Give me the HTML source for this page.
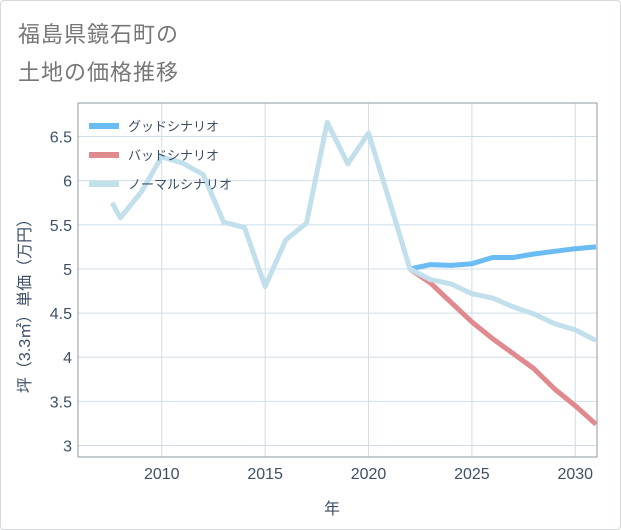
<!DOCTYPE html>
<html><head><meta charset="utf-8"><style>
body{margin:0;background:#fff;}
#wrap{position:relative;width:619px;height:528px;border:1px solid #d5d8dc;border-radius:4px;background:#fff;overflow:hidden}
.title{position:absolute;left:17px;font:22px "Liberation Sans","Noto Sans CJK JP",sans-serif;color:#777;letter-spacing:1px}
svg text{font-family:"Liberation Sans","Noto Sans CJK JP",sans-serif;}
</style></head><body>
<div id="wrap">
<div class="title" style="top:16px">福島県鏡石町の</div>
<div class="title" style="top:54px">土地の価格推移</div>
<svg id="chart" width="621" height="530" style="position:absolute;left:-1px;top:-1px"></svg>
</div>
<script>
const xTicks=[2010,2015,2020,2025,2030];
const yTicks=[3,3.5,4,4.5,5,5.5,6,6.5];
const yTickLabels=["3","3.5","4","4.5","5","5.5","6","6.5"];
const normalYears=[2007.6,2008,2009,2010,2011,2012,2013,2014,2015,2016,2017,2018,2019,2020,2021,2022,2023,2024,2025,2026,2027,2028,2029,2030,2031];
const normalValues=[5.75,5.58,5.87,6.27,6.2,6.07,5.53,5.47,4.8,5.33,5.52,6.66,6.19,6.54,5.78,5.0,4.88,4.83,4.72,4.67,4.57,4.49,4.38,4.31,4.19];
const scenYears=[2022,2023,2024,2025,2026,2027,2028,2029,2030,2031];
const goodValues=[5.0,5.05,5.04,5.06,5.13,5.13,5.17,5.2,5.23,5.25];
const badValues=[5.0,4.84,4.62,4.4,4.21,4.04,3.87,3.64,3.45,3.24];
const legendLabels=["グッドシナリオ","バッドシナリオ","ノーマルシナリオ"];
const colors=["#6bbcf3","#e08a8f","#c2e0ec"];

const L=78,R=597,T=103,B=457;
const x0=2005.95,x1=2031.05,y0=2.87,y1=6.88;
const sx=v=>L+(v-x0)/(x1-x0)*(R-L);
const sy=v=>B-(v-y0)/(y1-y0)*(B-T);
const svg=document.getElementById('chart');
const NS='http://www.w3.org/2000/svg';
function mk(tag,attrs,parent){const e=document.createElementNS(NS,tag);for(const k in attrs)e.setAttribute(k,attrs[k]);(parent||svg).appendChild(e);return e;}

const grid=mk('g',{});


xTicks.forEach(t=>{
  const l=mk('line',{x1:sx(t),x2:sx(t),y1:T,y2:B,stroke:'#cfdde8','stroke-width':1},grid);
  
  
  const tx=mk('text',{x:sx(t),y:B+22,'text-anchor':'middle','font-size':16,fill:'#3d4f66'});
  tx.textContent=t;
  
  
});
yTicks.forEach((t,i)=>{
  const l=mk('line',{x1:L,x2:R,y1:sy(t),y2:sy(t),stroke:'#cfdde8','stroke-width':1},grid);
  
  
  const tx=mk('text',{x:L-6,y:sy(t)+6,'text-anchor':'end','font-size':16,fill:'#3d4f66'});
  tx.textContent=yTickLabels[i];
  
  
});
const frame=mk('rect',{x:L,y:T,width:R-L,height:B-T,fill:'none',stroke:'#8f98a3','stroke-width':1});



const clip=mk('clipPath',{id:'pc'});
mk('rect',{x:L,y:T,width:R-L,height:B-T},clip);

function line(xs,ys,color,name){
  const d=xs.map((x,i)=>(i?'L':'M')+sx(x).toFixed(1)+','+sy(ys[i]).toFixed(1)).join(' ');
  const p=mk('path',{d:d,fill:'none',stroke:color,'stroke-width':5,'stroke-linejoin':'round','clip-path':'url(#pc)'});
  
  
}
line(scenYears,badValues,colors[1],'bad-scenario-line');
line(scenYears,goodValues,colors[0],'good-scenario-line');
line(normalYears,normalValues,colors[2],'normal-scenario-line');

legendLabels.forEach((lab,i)=>{
  const y=126+i*29;
  const g=mk('g',{});
  
  
  mk('line',{x1:89,x2:119,y1:y,y2:y,stroke:colors[i],'stroke-width':6},g);
  const t=mk('text',{x:128,y:y+5,'font-size':13,fill:'#3d4f66'},g);
  t.textContent=lab;
});

const xt=mk('text',{x:332,y:514,'text-anchor':'middle','font-size':16,fill:'#3d4f66'});
xt.textContent='年';


const yt=mk('text',{x:0,y:0,'text-anchor':'middle','font-size':16,fill:'#3d4f66',transform:'translate(30,302) rotate(-90)'});
yt.textContent='坪（3.3㎡）単価（万円）';


</script>
</body></html>
